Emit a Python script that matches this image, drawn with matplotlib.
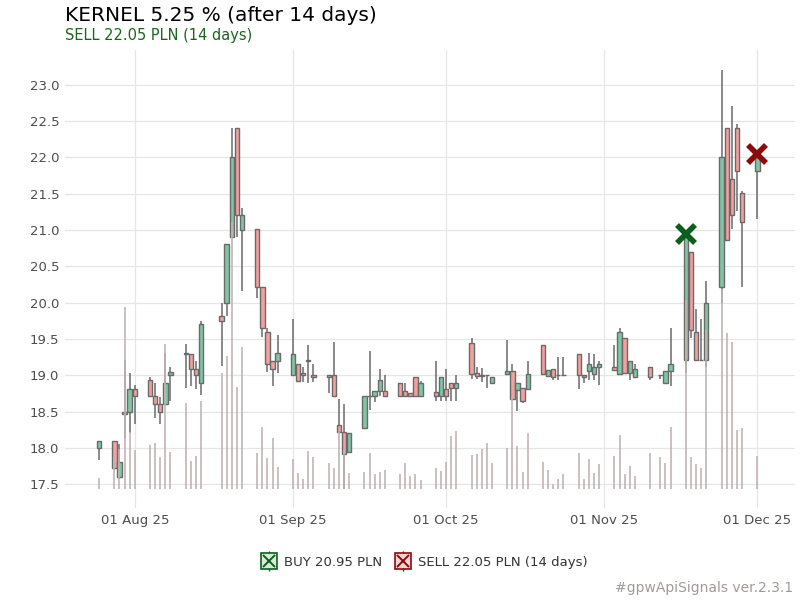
import numpy as np
import pandas as pd
import matplotlib
matplotlib.use('Agg')
import matplotlib.pyplot as plt
import matplotlib.dates as mdates
from matplotlib.patches import Rectangle
from matplotlib.lines import Line2D
from matplotlib.legend_handler import HandlerTuple

# notowania dzienne
dates = ['2025-07-25', '2025-07-28', '2025-07-29', '2025-07-30', '2025-07-31',
         '2025-08-01', '2025-08-04', '2025-08-05', '2025-08-06', '2025-08-07',
         '2025-08-08', '2025-08-11', '2025-08-12', '2025-08-13', '2025-08-14',
         '2025-08-18', '2025-08-19', '2025-08-20', '2025-08-21', '2025-08-22',
         '2025-08-25', '2025-08-26', '2025-08-27', '2025-08-28', '2025-08-29',
         '2025-09-01', '2025-09-02', '2025-09-03', '2025-09-04', '2025-09-05',
         '2025-09-08', '2025-09-09', '2025-09-10', '2025-09-11', '2025-09-12',
         '2025-09-15', '2025-09-16', '2025-09-17', '2025-09-18', '2025-09-19',
         '2025-09-22', '2025-09-23', '2025-09-24', '2025-09-25', '2025-09-26',
         '2025-09-29', '2025-09-30', '2025-10-01', '2025-10-02', '2025-10-03',
         '2025-10-06', '2025-10-07', '2025-10-08', '2025-10-09', '2025-10-10',
         '2025-10-13', '2025-10-14', '2025-10-15', '2025-10-16', '2025-10-17',
         '2025-10-20', '2025-10-21', '2025-10-22', '2025-10-23', '2025-10-24',
         '2025-10-27', '2025-10-28', '2025-10-29', '2025-10-30', '2025-10-31',
         '2025-11-03', '2025-11-04', '2025-11-05', '2025-11-06', '2025-11-07',
         '2025-11-10', '2025-11-12', '2025-11-13', '2025-11-14', '2025-11-17',
         '2025-11-18', '2025-11-19', '2025-11-20', '2025-11-21', '2025-11-24',
         '2025-11-25', '2025-11-26', '2025-11-27', '2025-11-28', '2025-12-01']

opens = [18.00, 18.10, 17.60, 18.47, 18.50, 18.81, 18.93, 18.71, 18.61, 18.61,
         19.01, 19.30, 19.29, 19.08, 18.90, 19.81, 19.99, 20.90, 22.40, 21.00,
         21.01, 20.21, 19.60, 19.19, 19.19, 19.01, 19.15, 19.03, 19.21, 19.01,
         19.01, 19.01, 18.31, 18.22, 17.95, 18.27, 18.71, 18.71, 18.79, 18.79,
         18.90, 18.79, 18.76, 18.98, 18.72, 18.77, 18.71, 18.81, 18.89, 18.82,
         19.44, 19.03, 19.00, 19.00, 18.90, 19.02, 19.06, 18.80, 18.82, 18.81,
         19.41, 18.99, 19.08, 19.00, 19.00, 19.29, 19.00, 19.06, 19.02, 19.11,
         19.11, 19.02, 19.51, 19.03, 18.97, 19.12, 19.00, 18.89, 19.06, 19.21,
         20.70, 19.60, 19.21, 19.21, 20.21, 22.40, 21.70, 22.40, 21.51, 21.81]

highs = [18.10, 18.10, 18.05, 19.21, 19.03, 18.86, 18.98, 18.89, 18.70, 19.30,
         19.12, 19.43, 19.29, 19.20, 19.74, 20.00, 20.80, 22.40, 22.40, 21.30,
         21.01, 20.21, 19.65, 19.19, 19.55, 19.77, 19.15, 19.11, 19.41, 19.15,
         19.01, 19.46, 18.68, 18.60, 18.21, 18.71, 19.34, 18.79, 19.08, 19.01,
         18.90, 18.89, 18.76, 18.98, 18.92, 19.20, 18.97, 19.08, 18.89, 19.01,
         19.51, 19.11, 19.10, 19.00, 18.98, 19.48, 19.15, 18.90, 18.82, 19.20,
         19.41, 19.07, 19.08, 19.25, 19.25, 19.29, 19.00, 19.30, 19.29, 19.20,
         19.41, 19.65, 19.51, 19.19, 19.16, 19.12, 19.01, 19.06, 19.65, 20.95,
         20.70, 19.91, 19.78, 20.30, 23.20, 22.40, 22.70, 22.46, 21.54, 22.01]

lows = [17.83, 17.70, 17.57, 18.13, 18.21, 18.33, 18.71, 18.41, 18.33, 18.61,
        18.64, 18.83, 18.85, 18.81, 18.73, 19.13, 19.82, 20.90, 20.91, 20.16,
        20.06, 19.52, 19.05, 18.85, 19.03, 19.01, 18.91, 18.91, 18.90, 18.91,
        18.75, 18.71, 18.22, 17.43, 17.95, 18.27, 18.52, 18.63, 18.71, 18.71,
        18.71, 18.72, 18.71, 18.72, 18.72, 18.64, 18.64, 18.64, 18.64, 18.64,
        18.95, 18.95, 18.91, 18.82, 18.90, 19.02, 18.67, 18.51, 18.62, 18.81,
        19.02, 18.99, 18.93, 18.93, 19.00, 18.81, 18.89, 18.94, 18.93, 18.87,
        19.07, 19.02, 19.03, 18.93, 18.97, 18.93, 18.95, 18.89, 18.85, 19.03,
        19.51, 19.21, 19.21, 19.12, 20.00, 20.86, 21.01, 21.26, 20.22, 21.15]

closes = [18.10, 17.73, 17.81, 18.50, 18.81, 18.72, 18.71, 18.61, 18.50, 18.90,
          19.04, 19.29, 19.08, 19.01, 19.70, 19.74, 20.80, 22.00, 21.20, 21.20,
          20.21, 19.65, 19.15, 19.08, 19.30, 19.29, 18.92, 19.01, 19.20, 18.97,
          18.98, 18.71, 18.22, 17.91, 18.21, 18.71, 18.72, 18.79, 18.93, 18.71,
          18.71, 18.72, 18.71, 18.72, 18.89, 18.71, 18.97, 18.71, 18.82, 18.90,
          19.02, 18.99, 18.99, 19.00, 18.98, 19.06, 18.67, 18.90, 18.64, 19.02,
          19.02, 19.07, 18.97, 19.00, 19.00, 19.00, 18.97, 19.16, 19.11, 19.16,
          19.07, 19.59, 19.03, 19.19, 19.08, 18.97, 19.00, 19.06, 19.16, 20.91,
          19.62, 19.21, 19.21, 20.00, 22.00, 20.86, 21.21, 21.81, 21.11, 22.01]

# wolumen (jednostki umowne)
volumes = [11, 32, 40, 182, 57, 39, 44, 46, 32, 145,
           37, 86, 28, 33, 88, 116, 133, 267, 102, 142,
           36, 62, 31, 51, 22, 30, 16, 10, 38, 32,
           26, 21, 57, 40, 16, 17, 36, 15, 17, 19,
           15, 26, 13, 15, 9, 21, 18, 27, 53, 58,
           34, 35, 40, 46, 26, 41, 92, 43, 17, 56,
           27, 19, 5, 10, 15, 36, 10, 30, 16, 25,
           33, 54, 15, 23, 13, 36, 32, 26, 62, 189,
           32, 25, 21, 159, 200, 156, 147, 59, 61, 33]

buy_date, buy_price = '2025-11-17', 20.95
sell_date, sell_price = '2025-12-01', 22.05
month_ticks = ['2025-08-01', '2025-09-01', '2025-10-01', '2025-11-01', '2025-12-01']

x = mdates.date2num(pd.to_datetime(dates))

fig = plt.figure(figsize=(8, 6), dpi=100)
ax = fig.add_axes([0.081, 0.153, 0.913, 0.764])

green = '#7fc6a3'
red = '#f2a19d'
edge = '#6a6a6a'
w = 0.85

for xi, o, h, l, c in zip(x, opens, highs, lows, closes):
    ax.plot([xi, xi], [l, h], color=edge, lw=1.1, zorder=2, solid_capstyle='butt')
    col = green if c > o else red
    ax.add_patch(Rectangle((xi - w / 2, min(o, c)), w, abs(c - o),
                           facecolor=col, edgecolor=edge, lw=1.0, zorder=3))

ax.set_ylim(17.17, 23.48)
ax.set_xlim(mdates.date2num(pd.Timestamp('2025-07-18 07:00')),
            mdates.date2num(pd.Timestamp('2025-12-08 10:00')))
ax.set_yticks(np.arange(17.5, 23.01, 0.5))
ax.set_xticks(mdates.date2num(pd.to_datetime(month_ticks)))
ax.xaxis.set_major_formatter(mdates.DateFormatter('%d %b %y'))
ax.grid(True, color='#e6e6e6', lw=0.9)
ax.set_axisbelow(True)
for s in ax.spines.values():
    s.set_visible(False)
ax.tick_params(length=0, labelsize=9.5, labelcolor='#4d4d4d', pad=4)

# wolumen na osobnej osi
ax2 = ax.twinx()
ax2.vlines(x, 0, volumes, color='#c2b3b3', lw=1.4, alpha=0.85)
ax2.set_ylim(-19, 439)
ax2.set_xlim(ax.get_xlim())
ax2.axis('off')

# sygnaly
ax3 = ax.twinx()
ax3.set_ylim(ax.get_ylim())
ax3.axis('off')
ax3.plot(mdates.date2num(pd.Timestamp(buy_date)), buy_price, marker='x',
         color='#0c5e1c', markersize=13, mew=4, zorder=5)
ax3.plot(mdates.date2num(pd.Timestamp(sell_date)), sell_price, marker='x',
         color='#8b0a0a', markersize=13, mew=4, zorder=5)

fig.text(0.081, 0.9655, 'KERNEL 5.25 % (after 14 days)', fontsize=14.5,
         color='black', va='baseline')
fig.text(0.081, 0.933, 'SELL 22.05 PLN (14 days)', fontsize=10.5,
         color='#1a661e', va='baseline')


def key(color, fill):
    box = Line2D([], [], marker='s', markersize=11, markerfacecolor=fill,
                 markeredgecolor=color, mew=1.2, ls='none')
    cross = Line2D([], [], marker='x', markersize=8, color=color, mew=1.4, ls='none')
    bar = Line2D([], [], marker='|', markersize=15, color=color, mew=1.0, ls='none')
    return (bar, box, cross)


handles = [key('#0c5e1c', '#d7ebd9'), key('#8b0a0a', '#f3d3d3')]
labels = ['BUY 20.95 PLN', 'SELL 22.05 PLN (14 days)']
fig.legend(handles, labels, loc='center', bbox_to_anchor=(0.53, 0.063), ncol=2,
           frameon=False, fontsize=9.5, labelcolor='#333333', handlelength=1.3,
           handletextpad=0.5, columnspacing=0.9, numpoints=1,
           handler_map={tuple: HandlerTuple(ndivide=1, pad=0)})

fig.text(0.992, 0.02, '#gpwApiSignals ver.2.3.1', ha='right', va='center',
         fontsize=10, color='#a39999')

fig.savefig('out.png', dpi=100)
